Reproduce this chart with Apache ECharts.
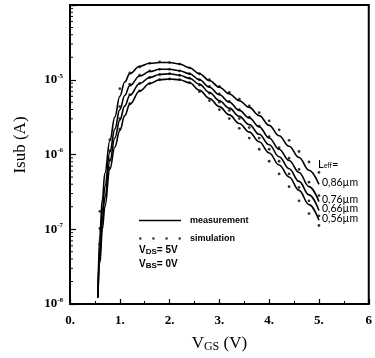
<!DOCTYPE html>
<html>
<head>
<meta charset="utf-8">
<script src="https://cdn.jsdelivr.net/npm/echarts@6/dist/echarts.min.js"></script>
<style>
html,body{margin:0;padding:0;background:#fff;}
#chart{width:375px;height:358px;}
</style>
</head>
<body>
<div id="chart"></div>
<script>
// ---- data (Isub given as log10 of amps) ----
const vgs = [0.56, 0.6, 0.65, 0.7, 0.8, 0.9, 1.0, 1.1, 1.2, 1.4, 1.6, 1.8, 2.0, 2.2, 2.4, 2.6, 2.8, 3.0, 3.2, 3.4, 3.6, 3.8, 4.0, 4.2, 4.4, 4.6, 4.8, 5.0];
const measLog086 = [-7.90, -7.05, -6.60, -6.25, -5.82, -5.50, -5.22, -5.03, -4.92, -4.82, -4.78, -4.77, -4.77, -4.79, -4.84, -4.92, -5.01, -5.10, -5.19, -5.28, -5.37, -5.48, -5.61, -5.75, -5.89, -6.04, -6.21, -6.40];
const measLog076 = [-7.91, -7.21, -6.76, -6.43, -5.97, -5.66, -5.40, -5.21, -5.08, -4.95, -4.89, -4.86, -4.86, -4.88, -4.92, -5.00, -5.10, -5.20, -5.30, -5.41, -5.51, -5.63, -5.78, -5.93, -6.08, -6.24, -6.43, -6.63];
const measLog066 = [-7.91, -7.33, -6.88, -6.57, -6.09, -5.78, -5.54, -5.35, -5.21, -5.05, -4.97, -4.93, -4.92, -4.94, -4.98, -5.06, -5.17, -5.28, -5.38, -5.49, -5.60, -5.73, -5.87, -6.03, -6.19, -6.36, -6.54, -6.75];
const measLog056 = [-7.92, -7.45, -7.00, -6.70, -6.20, -5.90, -5.68, -5.48, -5.33, -5.15, -5.05, -5.00, -4.99, -5.00, -5.04, -5.14, -5.25, -5.36, -5.47, -5.585, -5.70, -5.83, -5.98, -6.14, -6.30, -6.48, -6.67, -6.88];

const simV = [0.6, 0.8, 1.0, 1.2, 1.4, 1.6, 1.8, 2.0, 2.2, 2.4, 2.6, 2.8, 3.0, 3.2, 3.4, 3.6, 3.8, 4.0, 4.2, 4.4, 4.6, 4.8, 5.0];
const simLog086 = [-6.76, -5.80, -5.12, -4.91, -4.83, -4.78, -4.76, -4.77, -4.79, -4.84, -4.92, -5.00, -5.09, -5.17, -5.26, -5.35, -5.44, -5.55, -5.67, -5.81, -5.96, -6.10, -6.24];
const simLog076 = [-6.99, -5.95, -5.36, -5.06, -4.94, -4.88, -4.86, -4.86, -4.88, -4.92, -5.00, -5.09, -5.19, -5.29, -5.40, -5.50, -5.62, -5.76, -5.91, -6.05, -6.20, -6.37, -6.55];
const simLog066 = [-7.20, -6.07, -5.52, -5.20, -5.05, -4.97, -4.93, -4.92, -4.94, -4.98, -5.07, -5.18, -5.30, -5.41, -5.52, -5.64, -5.78, -5.93, -6.09, -6.26, -6.44, -6.62, -6.82];
const simLog056 = [-7.39, -6.18, -5.66, -5.32, -5.15, -5.05, -5.00, -4.99, -5.00, -5.04, -5.16, -5.28, -5.40, -5.52, -5.65, -5.78, -5.93, -6.09, -6.26, -6.43, -6.62, -6.79, -6.95];

const leffLabels = ['0,86\u00b5m', '0,76\u00b5m', '0,66\u00b5m', '0,56\u00b5m'];
const xTickLabels = ['0.', '1.', '2.', '3.', '4.', '5.', '6'];
const yDecades = [-8, -7, -6, -5];
const yMinorTicks = [
  2e-8, 3e-8, 4e-8, 5e-8, 6e-8, 7e-8, 8e-8, 9e-8,
  2e-7, 3e-7, 4e-7, 5e-7, 6e-7, 7e-7, 8e-7, 9e-7,
  2e-6, 3e-6, 4e-6, 5e-6, 6e-6, 7e-6, 8e-6, 9e-6,
  2e-5, 3e-5, 4e-5, 5e-5, 6e-5, 7e-5, 8e-5, 9e-5
];

// ---- build chart ----
const measSets = [measLog086, measLog076, measLog066, measLog056];
const simSets = [simLog086, simLog076, simLog066, simLog056];
const pair = (xs, ys) => xs.map((x, i) => [x, Math.pow(10, ys[i])]);

const serif = 'Liberation Serif';
const sans = 'Liberation Sans';

const series = [];
measSets.forEach((s, i) => {
  series.push({
    name: 'measurement',
    type: 'line',
    data: pair(vgs, s),
    smooth: 0.4,
    smoothMonotone: 'x',
    symbol: 'none',
    lineStyle: { color: '#000', width: 1.6 },
    itemStyle: { color: '#000' },
    z: 3,
    endLabel: {
      show: true,
      formatter: leffLabels[i],
      fontFamily: 'Lato',
      fontSize: 10.5,
      color: '#000',
      distance: 3,
      offset: [0, -2]
    }
  });
});
simSets.forEach((s) => {
  series.push({
    name: 'simulation',
    type: 'scatter',
    data: pair(simV, s),
    symbol: 'circle',
    symbolSize: 2.8,
    itemStyle: { color: '#000' },
    z: 4
  });
});
series.push({
  name: 'minorTicks',
  type: 'custom',
  silent: true,
  clip: false,
  data: yMinorTicks.map(v => [0, v]),
  renderItem: (params, api) => {
    const p = api.coord([api.value(0), api.value(1)]);
    return {
      type: 'line',
      shape: { x1: p[0], y1: p[1], x2: p[0] + 3, y2: p[1] },
      style: { stroke: '#000', lineWidth: 1 }
    };
  },
  z: 5
});

const r = 1.3;
let dotsPath = 'path://';
[0, 13, 26, 39].forEach(cx => {
  dotsPath += 'M' + (cx + 1.5 - r) + ',1.5 a' + r + ',' + r + ' 0 1,0 ' + (2 * r) + ',0 a' + r + ',' + r + ' 0 1,0 ' + (-2 * r) + ',0 ';
});

const chart = echarts.init(document.getElementById('chart'), null, { renderer: 'canvas' });
chart.setOption({
  animation: false,
  backgroundColor: '#fff',
  grid: { left: 70, right: 2, top: 5, bottom: 52, show: true, borderColor: '#000', borderWidth: 2, backgroundColor: 'transparent' },
  xAxis: {
    type: 'value',
    min: 0, max: 6, interval: 1,
    axisLine: { show: true, lineStyle: { color: '#000', width: 2 } },
    axisTick: { show: true, inside: true, length: 5, lineStyle: { color: '#000', width: 1.2 } },
    minorTick: { show: true, splitNumber: 2, length: 3, lineStyle: { color: '#000' } },
    splitLine: { show: false },
    axisLabel: {
      margin: 10,
      fontFamily: serif, fontSize: 13, fontWeight: 'bold', color: '#000',
      formatter: v => xTickLabels[Math.round(v)]
    },
    name: '{v|V}{s|GS}{v| (V)}',
    nameLocation: 'middle',
    nameGap: 30,
    nameTextStyle: {
      rich: {
        v: { fontFamily: serif, fontSize: 17, color: '#000' },
        s: { fontFamily: serif, fontSize: 12, color: '#000', padding: [7, 0, 0, 0] }
      }
    }
  },
  yAxis: {
    type: 'log',
    logBase: 10,
    min: 1e-8, max: 1e-4,
    axisLine: { show: true, lineStyle: { color: '#000', width: 2 } },
    axisTick: { show: true, inside: true, length: 6, lineStyle: { color: '#000', width: 1.2 } },
    minorTick: { show: false },
    splitLine: { show: false },
    axisLabel: {
      margin: 7,
      formatter: v => {
        const e = Math.round(Math.log10(v));
        if (yDecades.indexOf(e) < 0) return '';
        return '{b|10}{s|' + e + '}';
      },
      rich: {
        b: { fontFamily: serif, fontSize: 13, fontWeight: 'bold', color: '#000' },
        s: { fontFamily: serif, fontSize: 7, fontWeight: 'bold', color: '#000', padding: [0, 0, 8, 0] }
      }
    }
  },
  legend: {
    orient: 'vertical',
    left: 139, top: 216,
    itemWidth: 42, itemHeight: 4,
    itemGap: 9,
    padding: 0,
    selectedMode: false,
    textStyle: { fontFamily: sans, fontSize: 9, fontWeight: 'bold', color: '#000', padding: [0, 0, 0, 4] },
    data: [
      { name: 'measurement', icon: 'path://M0,0 L42,0 L42,1.6 L0,1.6 Z' },
      { name: 'simulation', icon: dotsPath }
    ]
  },
  graphic: [
    {
      type: 'text', x: 21, y: 145, rotation: Math.PI / 2,
      style: { text: 'Isub (A)', font: '17px "Liberation Serif"', fill: '#000', textAlign: 'center', textVerticalAlign: 'middle' }
    },
    {
      type: 'text', x: 139, y: 250,
      style: {
        text: '{m|V}{s|DS}{m|= 5V}', textVerticalAlign: 'middle',
        rich: {
          m: { fontFamily: sans, fontSize: 10, fontWeight: 'bold', fill: '#000' },
          s: { fontFamily: sans, fontSize: 8, fontWeight: 'bold', fill: '#000', padding: [4, 0, 0, 0] }
        }
      }
    },
    {
      type: 'text', x: 139, y: 264,
      style: {
        text: '{m|V}{s|BS}{m|= 0V}', textVerticalAlign: 'middle',
        rich: {
          m: { fontFamily: sans, fontSize: 10, fontWeight: 'bold', fill: '#000' },
          s: { fontFamily: sans, fontSize: 8, fontWeight: 'bold', fill: '#000', padding: [4, 0, 0, 0] }
        }
      }
    },
    {
      type: 'text', x: 318, y: 164,
      style: {
        text: '{m|L}{s|eff}{m|=}', textVerticalAlign: 'middle',
        rich: {
          m: { fontFamily: 'Lato', fontSize: 11, fill: '#000' },
          s: { fontFamily: 'Lato', fontSize: 7, fill: '#000', padding: [4, 0, 0, 0] }
        }
      }
    }
  ],
  series: series
});
</script>
</body>
</html>
